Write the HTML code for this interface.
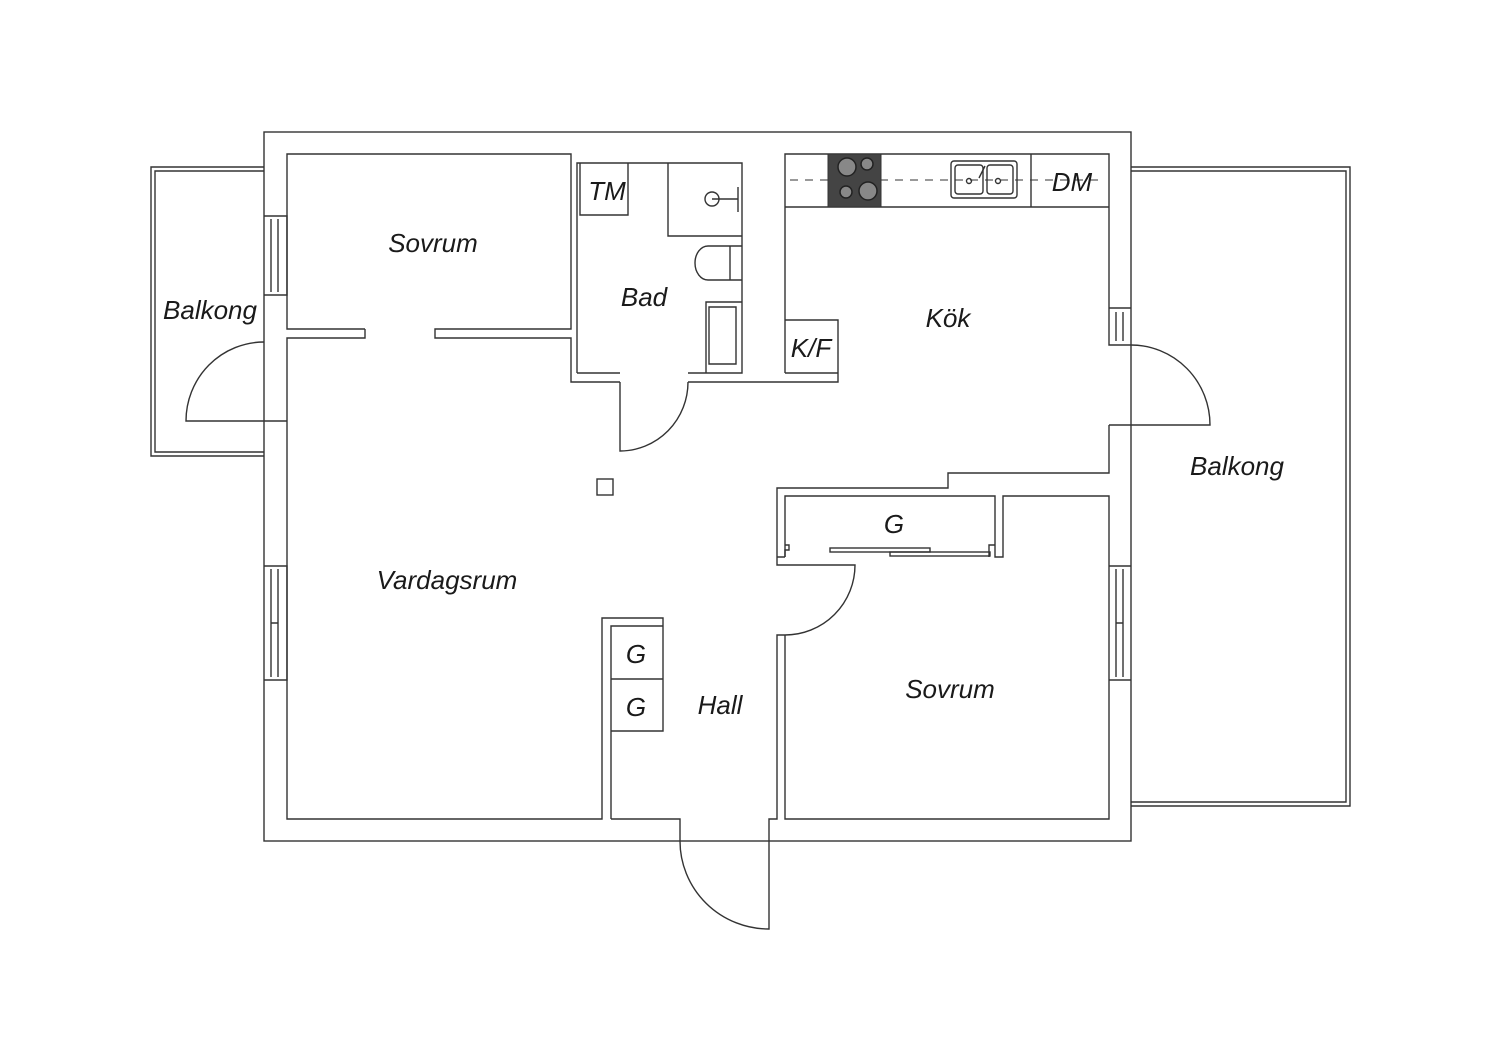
<!DOCTYPE html>
<html><head><meta charset="utf-8"><style>
html,body{margin:0;padding:0;background:#fff}
svg{display:block}
text{font-family:"Liberation Sans",sans-serif;font-style:italic;fill:#1a1a1a;font-size:26px;text-anchor:middle}
</style></head><body>
<svg width="1500" height="1060" viewBox="0 0 1500 1060" xmlns="http://www.w3.org/2000/svg">
<g fill="none" stroke="#333" stroke-width="1.4">
<!-- balconies -->
<path d="M264,167 H151 V456 H264 M264,171 H155 V452 H264"/>
<path d="M1131,167 H1350 V806 H1131 M1131,171 H1346 V802 H1131"/>
<!-- outer wall -->
<rect x="264" y="132" width="867" height="709" fill="#fff"/>
<!-- top-left sovrum -->
<path d="M365,329 H287 V154 H571 V329 H435 V338 H571 V382 H620"/>
<path d="M365,329 V338 H287 V421"/>
<!-- left windows -->
<path d="M264,216 H287 V295 H264 M271,219 V292 M278,219 V292"/>
<path d="M264,566 H287 V680 H264 M271,569 V677 M278,569 V677 M271,623 H278"/>
<!-- left balcony door -->
<path d="M287,421 H186 A78,79 0 0 1 264,342"/>
<!-- vardagsrum left wall + bottom -->
<path d="M287,421 V819 H602 V618 H663 V626 M611,819 V626 H663 V731 H611 M611,679 H663 M611,819 H680 V841"/>
<!-- bad -->
<path d="M577,373 V163 H742 V373 H688 M577,373 H620"/>
<path d="M580,163 V215 H628 V163"/>
<path d="M668,163 V236 H742"/>
<circle cx="712" cy="199" r="7"/><path d="M712,199 H738 M738,187 V212"/>
<path d="M730,246 H708 A13,17 0 0 0 708,280 H742 M730,246 H742 M730,246 V280"/>
<path d="M706,373 V302 H742 M709,307 H736 V364 H709 Z"/>
<!-- bad door -->
<path d="M620,382 V451 A68,69 0 0 0 688,382"/>
<path d="M688,382 H838 V320 H785 M785,373 H838"/>
<!-- kitchen -->
<path d="M785,373 V154 H1109 V308 H1131 M1109,308 V345 H1131 M1116,312 V341 M1123,312 V341"/>
<path d="M785,207 H1109 M1031,154 V207"/>
<path d="M790,180 H1105" stroke-dasharray="8,7" stroke-width="1"/>
<rect x="951" y="161" width="66" height="37" rx="3"/>
<rect x="955" y="165" width="28" height="29" rx="3"/><rect x="987" y="165" width="26" height="29" rx="3"/>
<circle cx="969" cy="181" r="2.5"/><circle cx="998" cy="181" r="2.5"/>
<path d="M979,178 L985,166"/>
<!-- right balcony door -->
<path d="M1109,425 H1210 A79,80 0 0 0 1131,345"/>
<path d="M1109,425 V473 H948 V488 H777 V565 H855 A70,70 0 0 1 785,635 H777 V819 H769 V929 A89,88 0 0 1 680,841"/>
<!-- wardrobe G -->
<path d="M785,557 V496 H995 V557 H1003 V496 H1109 V566 H1131 M1109,566 V680 H1131 M1116,569 V677 M1123,569 V677 M1116,623 H1123 M1109,680 V819 H785 V635"/>
<path d="M785,557 H777 M785,557 V550 H789 V545 H785 M995,545 H989 V557"/>
<rect x="830" y="548" width="100" height="4"/><rect x="890" y="552" width="100" height="4"/>
<!-- pillar -->
<rect x="597" y="479" width="16" height="16"/>
</g>
<!-- stove -->
<rect x="828" y="154" width="53" height="53" fill="#444" stroke="#333"/>
<g fill="#888" stroke="#222" stroke-width="1.5">
<circle cx="847" cy="167" r="9"/><circle cx="867" cy="164" r="6"/>
<circle cx="846" cy="192" r="6"/><circle cx="868" cy="191" r="9"/>
</g>
<text x="433" y="252">Sovrum</text>
<text x="210" y="319">Balkong</text>
<text x="607" y="200">TM</text>
<text x="644" y="306">Bad</text>
<text x="948" y="327">Kök</text>
<text x="1072" y="191">DM</text>
<text x="811" y="357">K/F</text>
<text x="1237" y="475">Balkong</text>
<text x="447" y="589">Vardagsrum</text>
<text x="894" y="533">G</text>
<text x="636" y="663">G</text>
<text x="636" y="716">G</text>
<text x="720" y="714">Hall</text>
<text x="950" y="698">Sovrum</text>
</svg>
</body></html>
